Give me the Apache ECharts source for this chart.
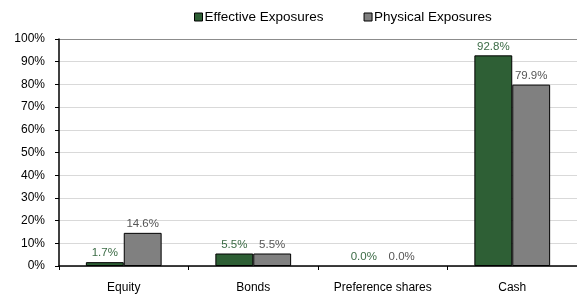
<!DOCTYPE html>
<html>
<head>
<meta charset="utf-8">
<script src="https://cdn.jsdelivr.net/npm/echarts@6/dist/echarts.min.js"></script>
<style>
  html, body { margin: 0; padding: 0; background: #fff; }
  #chart { width: 577px; height: 298px; }
</style>
</head>
<body>
<div id="chart"></div>
<script>
  // asset classes along the x axis
  var categories = ['Equity', 'Bonds', 'Preference shares', 'Cash']
  // percentages per class
  var effective = [1.7, 5.5, 0.0, 92.8]
  var physical = [14.6, 5.5, 0.0, 79.9]
  var seriesNames = ['Effective Exposures', 'Physical Exposures']

  var font = 'Liberation Sans, Arial, sans-serif'

  var chart = echarts.init(document.getElementById('chart'))

  function barSeries(name, data, color, labelColor) {
    return {
      name: name,
      type: 'bar',
      // zero bars get no outline, as in the original
      data: data.map(function (v) {
        return v === 0 ? { value: v, itemStyle: { borderWidth: 0 } } : v
      }),
      barGap: '0%',
      barCategoryGap: '41.5%',
      itemStyle: {
        color: color,
        borderColor: '#000',
        borderWidth: 1
      },
      label: {
        show: true,
        position: 'top',
        distance: 3,
        color: labelColor,
        fontFamily: font,
        fontSize: 11.5,
        formatter: function (p) {
          return p.value.toFixed(1) + '%'
        }
      },
      animation: false
    }
  }

  chart.setOption({
    textStyle: { fontFamily: font },
    legend: {
      top: 5,
      left: 189,
      itemWidth: 8,
      itemHeight: 8,
      itemGap: 40,
      icon: 'rect',
      textStyle: { fontSize: 13.5, color: '#000', padding: [0, 0, 0, -3] },
      itemStyle: { borderColor: '#000', borderWidth: 1 },
      data: seriesNames
    },
    grid: {
      left: 59,
      right: -2,
      top: 39,
      bottom: 32
    },
    xAxis: {
      type: 'category',
      data: categories,
      axisLine: { lineStyle: { color: '#000', width: 1.5 } },
      axisTick: { show: true, length: 4, inside: false, lineStyle: { color: '#000' } },
      axisLabel: { color: '#000', fontSize: 12, margin: 16 },
      splitLine: { show: false }
    },
    yAxis: {
      type: 'value',
      min: 0,
      max: 100,
      interval: 10,
      axisLine: { show: true, lineStyle: { color: '#000', width: 1.5 } },
      axisTick: { show: true, length: 4, lineStyle: { color: '#000' } },
      axisLabel: {
        color: '#000',
        fontSize: 12,
        margin: 14,
        formatter: '{value}%'
      },
      splitLine: {
        show: true,
        lineStyle: {
          color: ['#d9d9d9', '#d9d9d9', '#d9d9d9', '#d9d9d9', '#d9d9d9', '#d9d9d9',
            '#d9d9d9', '#d9d9d9', '#d9d9d9', '#d9d9d9', '#8c8c8c'],
          width: 1
        }
      }
    },
    series: [
      barSeries(seriesNames[0], effective, '#2e5f35', '#3b6b45'),
      barSeries(seriesNames[1], physical, '#808080', '#555555')
    ]
  })
</script>
</body>
</html>
